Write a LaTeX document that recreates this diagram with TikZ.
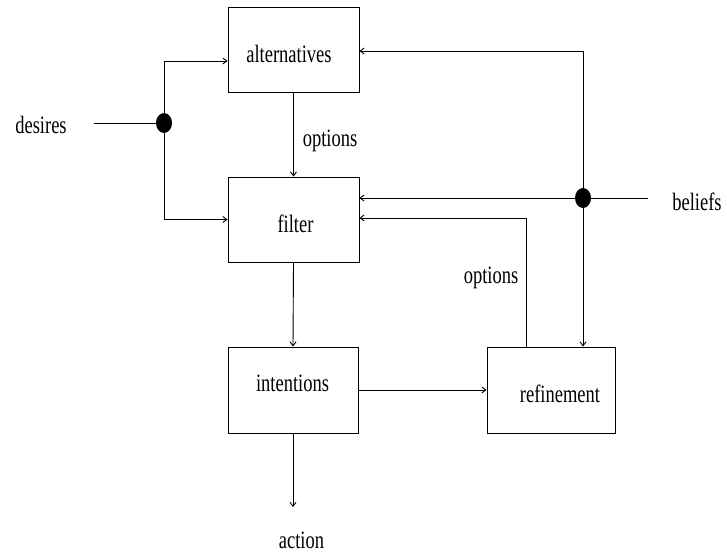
\documentclass[tikz,border=0pt]{standalone}
\usepackage{fontspec}
\setmainfont[FakeStretch=0.74]{Liberation Serif}
\usetikzlibrary{arrows.meta,calc,shapes.geometric}
\begin{document}
\begin{tikzpicture}[x=1pt,y=-1pt,
  box/.style={draw,line width=0.9pt,inner sep=0pt,minimum width=#1,minimum height=85pt},
  box/.default=131pt,
  lbl/.style={anchor=base,inner sep=0pt,font=\fontsize{25}{25}\selectfont},
  arr/.style={line width=0.9pt,-{Straight Barb[length=4pt,width=6pt]}},
  ln/.style={line width=0.9pt},
  dot/.style={ellipse,fill=black,inner sep=0pt,minimum width=16pt,minimum height=20pt}]
\useasboundingbox (0,0) rectangle (727,554);
% boxes
\node[box] (alt) at (293.5,50) {};
\node[box] (filt) at (293.5,219.5) {};
\node[box=130pt,minimum height=86pt] (int) at (293,390) {};
\node[box=128pt,minimum height=86pt] (ref) at (551,390) {};
% texts
\node[lbl] (talt) at (289,62) {alternatives};
\node[lbl] (tfilt) at (295.5,232) {filter};
\node[lbl] (tint) at (292.5,391) {intentions};
\node[lbl] (tref) at (560,402) {refinement};
\node[lbl] (topt1) at (330,146) {options};
\node[lbl] (topt2) at (491,283) {options};
\node[lbl] (tdes) at (41,133) {desires};
\node[lbl] (tbel) at (697,210) {beliefs};
\node[lbl] (tact) at (301.5,548) {action};
% junction dots
\node[dot] (d1) at (164,123) {};
\node[dot] (d2) at (583,198) {};
\coordinate (desend) at (94,123);
\coordinate (belend) at (648,198);
\coordinate (actend) at (293,507);
% connectors
\draw[ln] (desend) -- (d1.center);
\draw[arr] (d1.center) |- ([yshift=-11pt]alt.west);
\draw[arr] (d1.center) |- (filt.west);
\draw[arr] (alt.south) -- (filt.north);
\draw[ln] (belend) -- (d2.center);
\draw[arr] (d2.center) |- ([yshift=-1pt]alt.east);
\draw[arr] (d2.center) -- (d2.center -| filt.east);
\draw[arr] (d2.center) -- (d2.center |- ref.north);
\draw[arr] ([xshift=-25pt]ref.north) |- ([yshift=1.5pt]filt.east);
\draw[arr] (filt.south) -- (int.north);
\draw[arr] (int.east) -- (int.east -| ref.west);
\draw[arr] (int.south) -- (actend);
\end{tikzpicture}
\end{document}
